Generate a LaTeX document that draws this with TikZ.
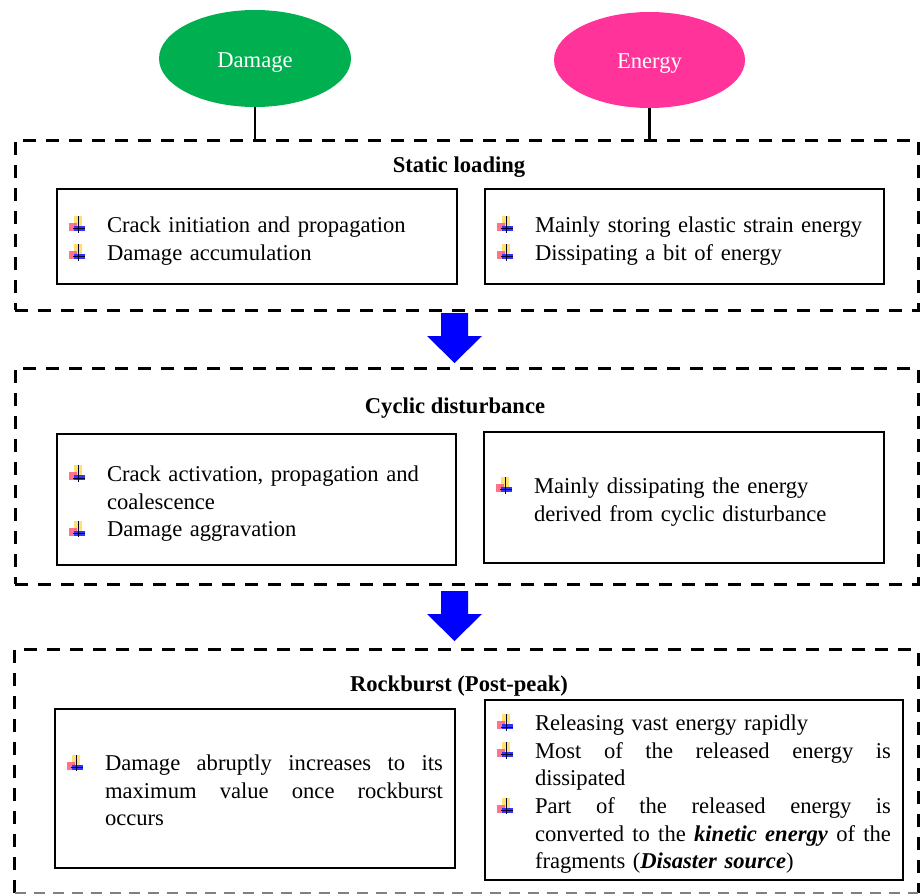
\documentclass[tikz,border=0pt]{standalone}
\usepackage{fontspec}
\setmainfont{Liberation Serif}
\usetikzlibrary{shapes.geometric}
\definecolor{dgreen}{RGB}{0,176,80}
\definecolor{epink}{RGB}{255,51,153}
\definecolor{abl}{RGB}{0,0,255}
\definecolor{bylw}{RGB}{255,225,110}
\definecolor{bred}{RGB}{255,90,120}
\definecolor{bblu}{RGB}{50,50,255}
\newcommand{\bul}{\tikz[x=1pt,y=1pt,baseline=0pt]{%
  \fill[bylw] (5,4) rectangle (13,16);
  \fill[bred,opacity=0.85] (0,1) rectangle (8,9);
  \fill[bblu] (5,1) rectangle (16,6);
  \draw[line width=1pt,black!80!blue] (9.5,-0.5) -- (9.5,16);
  \draw[line width=0.8pt,black!80!blue] (4,3.5) -- (16,3.5);}}
\newcommand{\bitem}[1]{\par\noindent\makebox[38pt][l]{\bul}\parbox[t]{\dimexpr\hsize-38pt\relax}{\raggedright\strut#1\strut}\par\prevdepth=\dp\strutbox}
\newcommand{\bjitem}[1]{\par\noindent\makebox[38pt][l]{\bul}\parbox[t]{\dimexpr\hsize-38pt\relax}{#1\strut}\par\prevdepth=\dp\strutbox}
\newcommand{\jl}[1]{\hbox to\hsize{\strut#1}}
\tikzset{
  txt/.style={font=\fontsize{22.6}{27.7}\selectfont},
  oval/.style={ellipse, inner sep=0pt, text=white, txt, text height=17pt, text depth=0pt},
  outerbox/.style={draw, line width=3pt, dash pattern=on 13pt off 10pt, inner sep=0pt},
  title/.style={font=\fontsize{22.6}{27.7}\selectfont\bfseries},
  ibox/.style={draw, line width=2pt, inner xsep=12pt, inner ysep=0pt, txt},
  barrow/.style={fill=abl},
  link/.style={line width=2.5pt}
}
\begin{document}
\begin{tikzpicture}[x=1pt,y=-1pt]
\useasboundingbox (0,0) rectangle (922,894);
% ovals
\node[oval, fill=dgreen, minimum width=192pt, minimum height=97pt] (dmg) at (255,58.5) {Damage};
\node[oval, fill=epink, minimum width=191pt, minimum height=96pt] (eng) at (649.5,60) {Energy};
% outer boxes
\node[outerbox, minimum width=903pt, minimum height=170pt] (b1) at (466.5,225) {};
\node[outerbox, minimum width=903pt, minimum height=216pt] (b2) at (466.5,476) {};
\node[inner sep=0pt, minimum width=903pt, minimum height=243pt] (b3) at (466.5,771.5) {};
\draw[line width=3pt, dash pattern=on 13pt off 10pt] (b3.south west) -- (b3.north west) -- (b3.north east) -- (b3.south east);
\draw[line width=1.5pt, gray, dash pattern=on 11pt off 8pt] (b3.south west) -- (b3.south east);
% links
\draw[link] (dmg.south) -- (dmg.south |- b1.north);
\draw[link] (eng.south) -- (eng.south |- b1.north);
% titles
\node[title] (t1) at (459,167) {Static loading};
\node[title] (t2) at (455,408) {Cyclic disturbance};
\node[title] (t3) at (459,686) {Rockburst (Post-peak)};
% static loading
\node[ibox, minimum width=400pt, minimum height=95pt, text width=376pt] (s1) at (257,236.5) {%
  \bitem{Crack initiation and propagation}
  \bitem{Damage accumulation}};
\node[ibox, minimum width=399pt, minimum height=95pt, text width=375pt] (s2) at (684.5,236.5) {%
  \bitem{Mainly storing elastic strain energy}
  \bitem{Dissipating a bit of energy}};
% cyclic
\node[ibox, minimum width=399pt, minimum height=131pt, text width=375pt] (c1) at (256.5,499.5) {%
  \bitem{Crack activation, propagation and\newline coalescence}
  \bitem{Damage aggravation}};
\node[ibox, minimum width=400pt, minimum height=131pt, text width=376pt] (c2) at (684,497.5) {%
  \bitem{Mainly dissipating the energy\newline derived from cyclic disturbance}};
% rockburst
\node[ibox, minimum width=400pt, minimum height=159pt, text width=376pt] (r1) at (255,788.5) {%
  \bjitem{\jl{Damage\hfill abruptly\hfill increases\hfill to\hfill its}%
          \jl{maximum\hfill value\hfill once\hfill rockburst}%
          \strut occurs}};
\node[ibox, line width=2.5pt, minimum width=418pt, minimum height=180pt, text width=394pt] (r2) at (694,790) {%
  \bitem{Releasing vast energy rapidly}
  \bjitem{\jl{Most\hfill of\hfill the\hfill released\hfill energy\hfill is}%
          \strut dissipated}
  \bjitem{\jl{Part\hfill of\hfill the\hfill released\hfill energy\hfill is}%
          \jl{converted\hfill to\hfill the\hfill \textbf{\textit{kinetic\hfill energy}}\hfill of\hfill the}%
          \strut fragments (\textbf{\textit{Disaster source}})}};
% arrows
\fill[barrow] (441,313) -- (468,313) -- (468,336) -- (482,336) -- (454.5,363) -- (427,336) -- (441,336) -- cycle;
\fill[barrow] (441,591) -- (468,591) -- (468,614) -- (482,614) -- (454.5,641) -- (427,614) -- (441,614) -- cycle;
\end{tikzpicture}
\end{document}
